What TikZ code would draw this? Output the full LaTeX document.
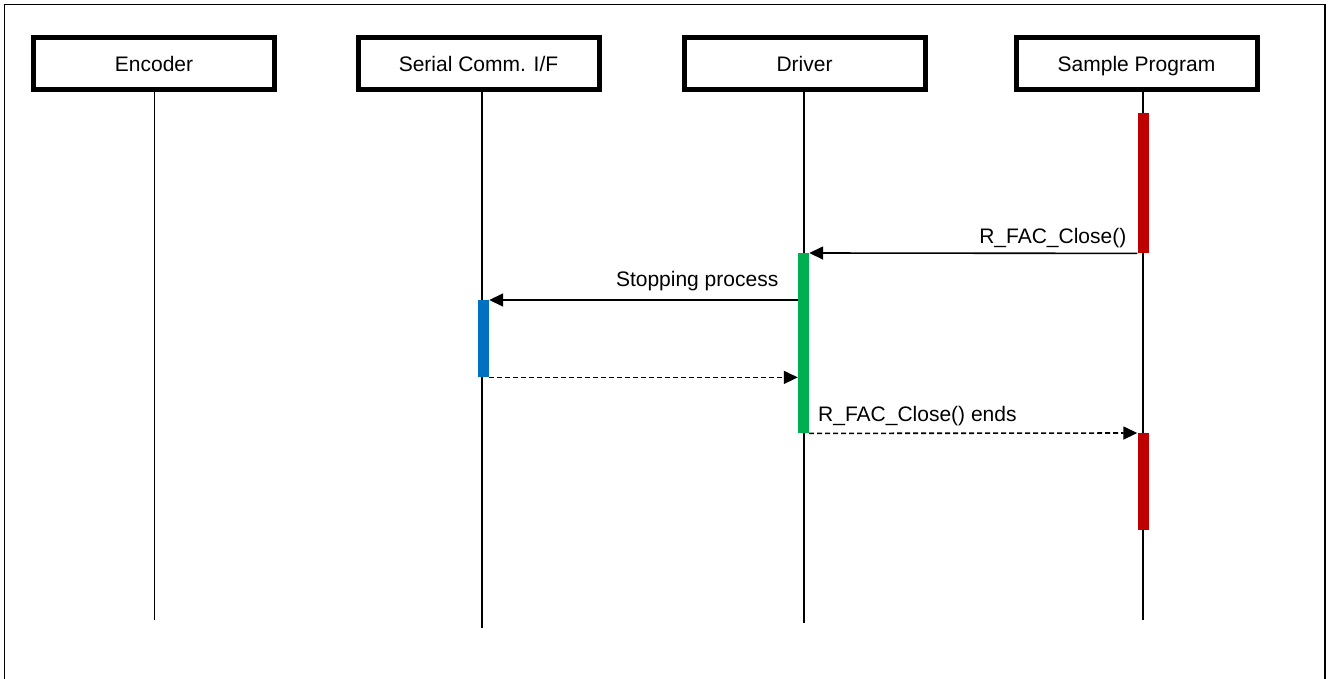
\documentclass[tikz,border=0pt]{standalone}
\usepackage{fontspec}
\setmainfont{Liberation Sans}
\usetikzlibrary{arrows.meta}
\definecolor{actred}{HTML}{C00000}
\definecolor{actgreen}{HTML}{00B050}
\definecolor{actblue}{HTML}{0070C0}
\begin{document}
\begin{tikzpicture}[x=1pt,y=-1pt,
  hdr/.style={draw,line width=5pt,minimum width=241pt,minimum height=52pt,inner sep=0pt,text height=16.4pt,text depth=0pt,font=\fontsize{21}{25}\selectfont},
  life/.style={line width=1.6pt},
  actbar/.style={inner sep=0pt,minimum width=11pt,anchor=north},
  msg/.style={line width=1.6pt,-{Triangle[length=14pt,width=13pt]}},
  ret/.style={msg,dash pattern=on 5pt off 3pt},
  lbl/.style={inner sep=0pt,font=\fontsize{21}{25}\selectfont}]
\useasboundingbox (0,0) rectangle (1328,679);
\draw[line width=1.6pt] (4.5,679) -- (4.5,4.5) -- (1325,4.5) -- (1325,679);
% headers
\node[hdr] (enc) at (154,63.5) {Encoder};
\node[hdr] (ser) at (478.5,63.5) {Serial Comm. I/F};
\node[hdr] (drv) at (804.5,63.5) {Driver};
\node[hdr] (smp) at (1136.5,63.5) {Sample Program};
% lifelines
\coordinate (encE) at (154.5,620);
\coordinate (serE) at (482,628);
\coordinate (drvE) at (804,623);
\coordinate (smpE) at (1143,620);
\draw[life] (enc.south -| encE) -- (encE);
\draw[life] (ser.south -| serE) -- (serE);
\draw[life] (drv.south -| drvE) -- (drvE);
\draw[life] (smp.south -| smpE) -- (smpE);
% activation bars
\node[actbar,fill=actred,minimum height=140pt] (sp1) at (1143,113) {};
\node[actbar,fill=actgreen,minimum height=180pt] (dv) at (803.5,253) {};
\node[actbar,fill=actblue,minimum height=77pt] (sr) at (483.5,300) {};
\node[actbar,fill=actred,minimum height=97pt] (sp2) at (1143,433) {};
% messages
\draw[msg] (sp1.south west) -- (dv.north east);
\draw[msg] (dv.west |- sr.north) -- (sr.north east);
\draw[ret] (sr.south east) -- (dv.west |- sr.south);
\draw[ret] (dv.south east) -- (sp2.north west);
% labels
\node[lbl,anchor=base east] (l1) at (1126.5,243.5) {R\_FAC\_Close()};
\node[lbl,anchor=base east] (l2) at (778.5,286.5) {Stopping process};
\node[lbl,anchor=base west] (l3) at (818,421) {R\_FAC\_Close() ends};
\end{tikzpicture}
\end{document}
